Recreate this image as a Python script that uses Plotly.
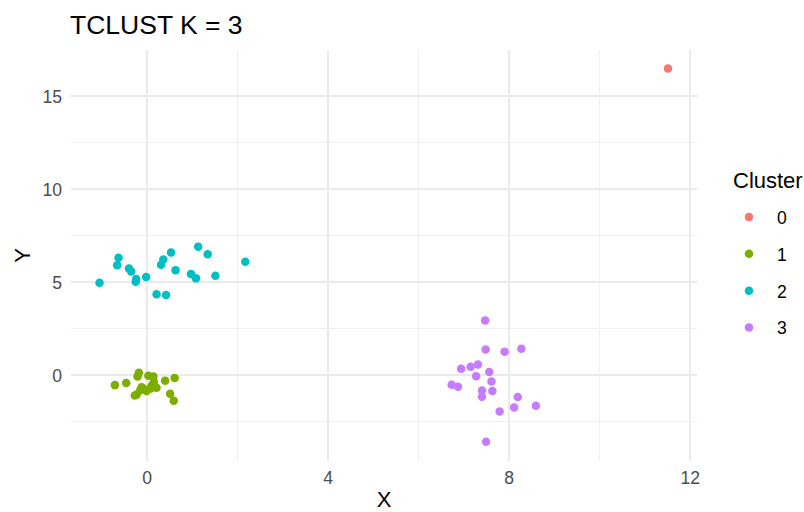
import plotly.graph_objects as go

clusters = ["0", "1", "2", "3"]
colors = ["#F8766D", "#7CAE00", "#00BFC4", "#C77CFF"]

x0 = [11.51]
y0 = [16.5]

x1 = [-0.71, -0.46, -0.18, -0.21, 0.03, 0.14, -0.12, -0.23, -0.27, -0.01, 0.21, 0.15,
      0.40, 0.61, 0.51, 0.59, -0.08, 0.10, 0.08, -0.15]
y1 = [-0.52, -0.41, 0.14, -0.05, -0.02, -0.05, -0.63, -1.02, -1.08, -0.84, -0.66, -0.36,
      -0.29, -0.14, -0.99, -1.36, -0.72, -0.55, -0.70, -0.80]

x2 = [-1.05, -0.63, -0.66, -0.40, -0.35, -0.24, -0.25, -0.02, 0.21, 0.42, 0.31, 0.36,
      0.53, 0.63, 0.97, 1.08, 1.13, 1.34, 1.51, 2.17]
y2 = [4.98, 6.33, 5.93, 5.75, 5.59, 5.18, 5.04, 5.29, 4.37, 4.32, 5.95, 6.24,
      6.61, 5.66, 5.45, 5.22, 6.92, 6.52, 5.36, 6.11]

x3 = [7.47, 7.48, 7.90, 8.27, 6.94, 7.15, 7.31, 7.27, 7.56, 7.61, 6.73, 6.87,
      7.40, 7.63, 7.40, 8.19, 8.11, 8.59, 7.79, 7.49]
y3 = [2.96, 1.40, 1.27, 1.43, 0.36, 0.47, 0.59, -0.04, 0.18, -0.32, -0.50, -0.61,
      -0.81, -0.84, -1.15, -1.16, -1.72, -1.63, -1.94, -3.57]

xs = [x0, x1, x2, x3]
ys = [y0, y1, y2, y3]

x_ticks = [0, 4, 8, 12]
y_ticks = [0, 5, 10, 15]

fig = go.Figure()
for name, col, xv, yv in zip(clusters, colors, xs, ys):
    fig.add_trace(go.Scatter(
        x=xv, y=yv, mode="markers", name=name, legendgroup=name,
        marker=dict(color=col, size=8.5, line=dict(width=0)),
    ))

font_family = "Liberation Sans, Arial, sans-serif"
W, H = 804, 512
ML, MR, MT, MB = 71, 107, 50, 51

fig.update_layout(
    template="none",
    width=W, height=H,
    margin=dict(l=ML, r=MR, t=MT, b=MB, pad=0),
    paper_bgcolor="white", plot_bgcolor="white",
    font=dict(family=font_family, color="#000000"),
    title=dict(text="TCLUST K = 3", x=70/W, xanchor="left", xref="container",
               y=1-25/H, yanchor="middle",
               font=dict(size=26.5, color="black")),
    showlegend=True,
    legend=dict(
        font=dict(size=17.6, color="black"),
        x=(721 - ML) / (W - ML - MR), xanchor="left",
        y=1 - (199 - MT) / (H - MT - MB), yanchor="top",
        tracegroupgap=11,
        itemwidth=46,
        bgcolor="rgba(0,0,0,0)",
        borderwidth=0,
    ),
    annotations=[dict(
        text="Cluster", xref="paper", yref="paper",
        x=(731 - ML) / (W - ML - MR), xanchor="left",
        y=1 - (180 - MT) / (H - MT - MB), yanchor="middle",
        showarrow=False, font=dict(size=22, color="black"),
    )],
    xaxis=dict(
        range=[-1.68, 12.15], tickvals=x_ticks, ticktext=[str(v) for v in x_ticks],
        showgrid=True, gridcolor="#EBEBEB", gridwidth=1.6, zeroline=False,
        showline=False, ticks="", tickfont=dict(size=17.6, color="#4D4D4D"),
        ticklabelstandoff=4, automargin=False,
        title=dict(text="X", font=dict(size=22, color="black"), standoff=5),
        minor=dict(tickvals=[-2, 2, 6, 10], showgrid=True, gridcolor="#F0F0F0", gridwidth=0.8),
    ),
    yaxis=dict(
        range=[-4.6, 17.5], tickvals=y_ticks, ticktext=[str(v) for v in y_ticks],
        showgrid=True, gridcolor="#EBEBEB", gridwidth=1.6, zeroline=False,
        showline=False, ticks="", tickfont=dict(size=17.6, color="#4D4D4D"),
        ticklabelstandoff=8, automargin=False,
        title=dict(text="Y", font=dict(size=22, color="black"), standoff=5),
        minor=dict(tickvals=[-2.5, 2.5, 7.5, 12.5, 17.5], showgrid=True, gridcolor="#F0F0F0", gridwidth=0.8),
    ),
)

fig.write_html("out.html")
